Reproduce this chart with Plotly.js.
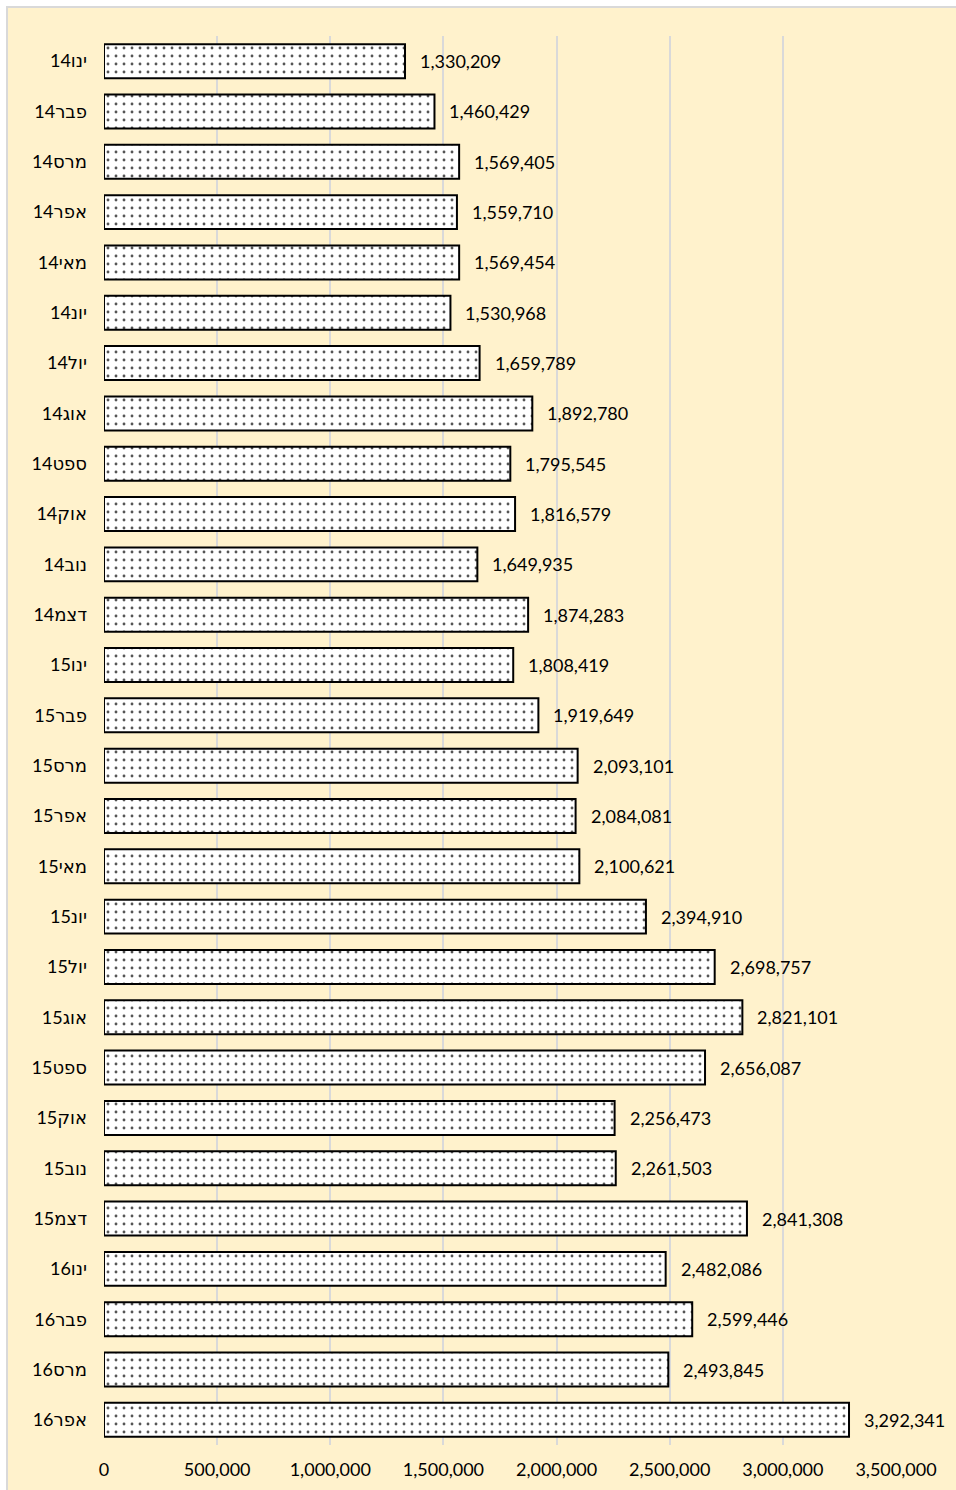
<!DOCTYPE html>
<html>
<head>
<meta charset="utf-8">
<script src="https://cdn.plot.ly/plotly-3.0.1.min.js"></script>
<style>
html,body{margin:0;padding:0;background:#ffffff;}
#wrap{position:absolute;left:6px;top:6px;width:950px;height:1484px;box-sizing:border-box;border-left:2px solid #d9d9d9;border-top:2px solid #d9d9d9;background:#FFF2CC;}
#chart{position:absolute;left:0;top:0;width:948px;height:1482px;}
</style>
</head>
<body>
<div id="wrap"><div id="chart"></div></div>
<script>
const categories = [
  "ינו14","פבר14","מרס14","אפר14","מאי14","יונ14","יול14","אוג14","ספט14","אוק14","נוב14","דצמ14",
  "ינו15","פבר15","מרס15","אפר15","מאי15","יונ15","יול15","אוג15","ספט15","אוק15","נוב15","דצמ15",
  "ינו16","פבר16","מרס16","אפר16"
];
const values = [
  1330209, 1460429, 1569405, 1559710, 1569454, 1530968, 1659789, 1892780, 1795545, 1816579, 1649935, 1874283,
  1808419, 1919649, 2093101, 2084081, 2100621, 2394910, 2698757, 2821101, 2656087, 2256473, 2261503, 2841308,
  2482086, 2599446, 2493845, 3292341
];
const tickValues = [0, 500000, 1000000, 1500000, 2000000, 2500000, 3000000, 3500000];
const tickLabels = ["0","500,000","1,000,000","1,500,000","2,000,000","2,500,000","3,000,000","3,500,000"];

const FONT = "Lato, 'Liberation Sans', 'DejaVu Sans', sans-serif";
const HFONT = "Lato, 'DejaVu Sans', sans-serif";
const fmt = v => v.toLocaleString('en-US');

const trace = {
  type: 'bar',
  orientation: 'h',
  y: categories,
  x: values,
  marker: {
    color: '#ffffff',
    line: {color: '#000000', width: 2},
    pattern: {shape: '.', fgcolor: '#555555', bgcolor: '#ffffff', size: 8, solidity: 0.1}
  },
  hoverinfo: 'none'
};

const annotations = categories.map((c, i) => ({
  x: values[i], y: c, xref: 'x', yref: 'y',
  text: fmt(values[i]), showarrow: false,
  xanchor: 'left', xshift: 13,
  font: {family: FONT, size: 18, color: '#000000'}
}));

const layout = {
  width: 948, height: 1482,
  paper_bgcolor: 'rgba(0,0,0,0)',
  plot_bgcolor: 'rgba(0,0,0,0)',
  margin: {l: 96, r: 60, t: 28, b: 45},
  bargap: 0.325,
  showlegend: false,
  font: {family: FONT, size: 18, color: '#000000'},
  xaxis: {
    range: [0, 3500000],
    tickvals: tickValues, ticktext: tickLabels,
    showgrid: true, gridcolor: '#d9d9d9', gridwidth: 2,
    zeroline: false, showline: false, ticks: '',
    ticklabelstandoff: 12,
    tickfont: {family: FONT, size: 18, color: '#000000'},
    fixedrange: true
  },
  yaxis: {
    type: 'category',
    autorange: 'reversed',
    showgrid: false, zeroline: false,
    showline: false, ticks: '',
    ticklabelstandoff: 16,
    tickfont: {family: HFONT, size: 18, color: '#000000'},
    fixedrange: true
  },
  annotations: annotations
};

Plotly.newPlot('chart', [trace], layout, {displayModeBar: false, staticPlot: true});
</script>
</body>
</html>
